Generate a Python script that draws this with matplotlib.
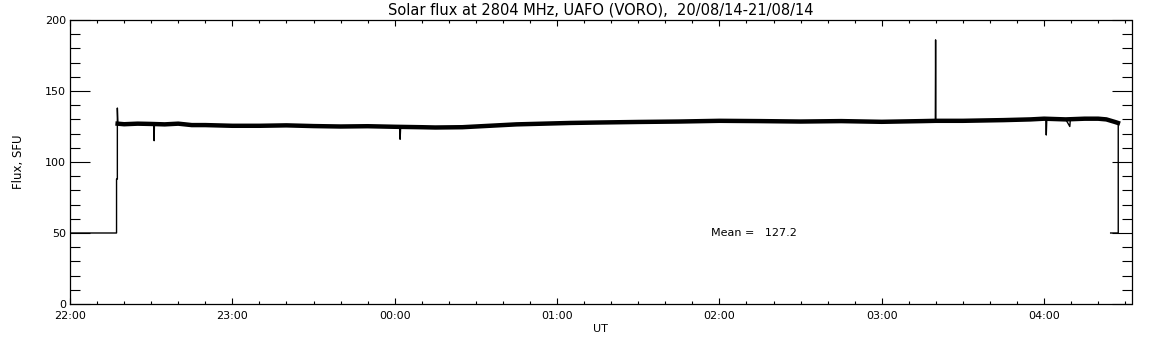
import matplotlib.pyplot as plt
from matplotlib.ticker import MultipleLocator

# Time in minutes after 22:00 UT and flux in SFU
t_min = [0, 17.2, 17.2, 17.5, 17.5, 17.7, 20, 25, 30, 31.0, 31.1, 31.2, 35, 40, 45, 50,
         60, 70, 80, 90, 100, 110, 120, 121.8, 122.0, 122.2, 135, 145, 155, 165, 175,
         185, 195, 210, 225, 240, 255, 270, 285, 300, 315, 319.8, 319.9, 320.0,
         330, 345, 355, 360.6, 360.8, 361.0, 368, 369.5, 369.7, 375, 380, 383,
         387.4, 387.4, 384.6]
flux = [50, 50, 88, 88, 138, 127, 126.6, 127, 126.8, 126.5, 115, 126.5, 126.5, 127, 126, 126,
        125.5, 125.5, 125.8, 125.3, 125, 125.2, 124.8, 124.5, 116, 124.5, 124.3, 124.5, 125.5, 126.5, 127,
        127.5, 127.8, 128.2, 128.5, 129, 128.8, 128.5, 128.8, 128.3, 128.8, 129, 186, 129,
        129, 129.5, 130, 130.5, 119, 130.3, 130, 125, 130, 130.5, 130.5, 130,
        127.5, 50, 50]

# quiet level (the noisy band)
band_t = [17.6, 20, 25, 30, 35, 40, 45, 50, 60, 70, 80, 90, 100, 110, 120, 130, 135,
          145, 155, 165, 175, 185, 195, 210, 225, 240, 255, 270, 285, 300, 315, 320,
          330, 345, 355, 360, 368, 375, 380, 383, 386, 387.3]
band_f = [127, 126.6, 127, 126.8, 126.5, 127, 126, 126, 125.5, 125.5, 125.8, 125.3,
          125, 125.2, 124.8, 124.5, 124.3, 124.5, 125.5, 126.5, 127, 127.5, 127.8, 128.2,
          128.5, 129, 128.8, 128.5, 128.8, 128.3, 128.8, 129, 129, 129.5, 130, 130.5,
          130, 130.5, 130.5, 130, 128.3, 127.5]

tick_pos = [0, 60, 120, 180, 240, 300, 360]
tick_labels = ['22:00', '23:00', '00:00', '01:00', '02:00', '03:00', '04:00']

mean_flux = 127.2

fig = plt.figure(figsize=(11.52, 3.45), dpi=100)
ax = fig.add_axes([70 / 1152, 1 - 304 / 345, 1061.5 / 1152, 284 / 345])

ax.plot(t_min, flux, color='black', linewidth=1.0)
ax.plot(band_t, band_f, color='black', linewidth=3.2)

ax.set_xlim(0, 392.3)
ax.set_ylim(0, 200)

ax.set_xticks(tick_pos)
ax.set_xticklabels(tick_labels)
ax.xaxis.set_minor_locator(MultipleLocator(10))
ax.yaxis.set_major_locator(MultipleLocator(50))
ax.yaxis.set_minor_locator(MultipleLocator(10))

ax.tick_params(axis='x', which='major', direction='in', length=4.5, width=0.8,
               top=True, labelsize=8, pad=5)
ax.tick_params(axis='x', which='minor', direction='in', length=2.2, width=0.8, top=True)
ax.tick_params(axis='y', which='major', direction='in', length=14.5, width=0.8,
               right=True, labelsize=8, pad=3)
ax.tick_params(axis='y', which='minor', direction='in', length=7.5, width=0.8, right=True)

for s in ax.spines.values():
    s.set_linewidth(0.9)

ax.set_title('Solar flux at 2804 MHz, UAFO (VORO),  20/08/14-21/08/14', fontsize=10.5, pad=4)
ax.set_xlabel('UT', fontsize=8, labelpad=2)
ax.set_ylabel('Flux, SFU', fontsize=8.5, labelpad=14)

ax.text(237, 50, 'Mean =   %.1f' % mean_flux, fontsize=8, va='center')

plt.savefig('out.png', dpi=100)
